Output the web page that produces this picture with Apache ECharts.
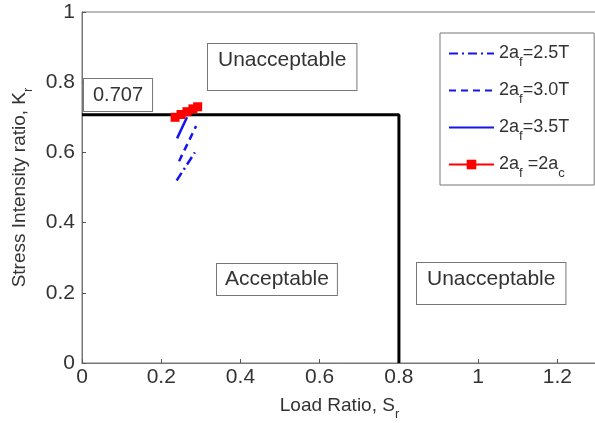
<!DOCTYPE html>
<html><head><meta charset="utf-8">
<script src="https://cdn.jsdelivr.net/npm/echarts@6/dist/echarts.min.js"></script>
<style>html,body{margin:0;padding:0;background:#fff;}#c{width:595px;height:423px;}</style>
</head><body><div id="c"></div>
<script>
// Data
var xTicks = [0, 0.2, 0.4, 0.6, 0.8, 1, 1.2];
var yTicks = [0, 0.2, 0.4, 0.6, 0.8, 1];
var limitX = [0, 0.8, 0.8];
var limitY = [0.707, 0.707, 0];
var s25X = [0.239, 0.285];
var s25Y = [0.520, 0.600];
var s30X = [0.245, 0.288];
var s30Y = [0.575, 0.675];
var s35X = [0.240, 0.265];
var s35Y = [0.640, 0.700];
var sCX = [0.235, 0.250, 0.265, 0.280, 0.292];
var sCY = [0.700, 0.708, 0.716, 0.724, 0.730];
var seriesNames = ['2.5T', '3.0T', '3.5T', '2ac'];
var legendLabels = {
  '2.5T': '2a{sub|f}=2.5T',
  '3.0T': '2a{sub|f}=3.0T',
  '3.5T': '2a{sub|f}=3.5T',
  '2ac': '2a{sub|f} =2a{sub|c}'
};

function pairs(xs, ys) { return xs.map(function (x, i) { return [x, ys[i]]; }); }

var FONT = 'Liberation Sans, Arial, sans-serif';
var subStyle = { fontSize: 13, fontFamily: FONT, color: '#333', verticalAlign: 'bottom', lineHeight: 14, padding: [0, 0, -5, 0] };
var BLUE = '#1515ee';

var chart = echarts.init(document.getElementById('c'));
chart.setOption({
  animation: false,
  backgroundColor: '#fff',
  grid: { left: 82, right: -2, top: 12, bottom: 60, outerBoundsMode: 'none', containLabel: false, show: true, borderColor: '#777', borderWidth: 1, backgroundColor: 'transparent' },
  xAxis: {
    type: 'value', min: xTicks[0], max: 1.3, interval: 0.2,
    axisLine: { show: true, onZero: false, lineStyle: { color: '#777', width: 1 } },
    axisTick: { show: true, inside: true, length: 4, lineStyle: { color: '#555' } },
    splitLine: { show: false },
    axisLabel: { color: '#333', fontSize: 21, fontFamily: FONT, margin: 4, showMaxLabel: false },
    name: 'Load Ratio, S{sub|r}', nameLocation: 'middle', nameGap: 32,
    nameTextStyle: { color: '#333', fontSize: 19, fontFamily: FONT, lineHeight: 21, rich: { sub: subStyle } }
  },
  yAxis: {
    type: 'value', min: yTicks[0], max: yTicks[yTicks.length - 1], interval: 0.2,
    axisLine: { show: true, onZero: false, lineStyle: { color: '#777', width: 1 } },
    axisTick: { show: true, inside: true, length: 4, lineStyle: { color: '#555' } },
    splitLine: { show: false },
    axisLabel: { color: '#333', fontSize: 21, fontFamily: FONT, margin: 7 },
    name: 'Stress Intensity ratio, K{sub|r}', nameLocation: 'middle', nameGap: 40,
    nameTextStyle: { color: '#333', fontSize: 19, fontFamily: FONT, lineHeight: 21, rich: { sub: subStyle } }
  },
  legend: {
    data: [
      { name: seriesNames[0], itemStyle: { opacity: 0 } },
      { name: seriesNames[1], itemStyle: { opacity: 0 } },
      { name: seriesNames[2], itemStyle: { opacity: 0 } },
      { name: seriesNames[3] }
    ],
    orient: 'vertical', left: 440, top: 33,
    padding: [10, 25, 5, 8],
    itemGap: 11, itemWidth: 45, itemHeight: 12,
    borderColor: '#777', borderWidth: 1, backgroundColor: '#fff',
    formatter: function (n) { return legendLabels[n]; },
    textStyle: { color: '#333', fontSize: 18, fontFamily: FONT, lineHeight: 21, rich: { sub: subStyle } }
  },
  graphic: [
    { type: 'text', left: 83, top: 78, z: 100, style: { text: '0.707', font: '20px ' + FONT, fill: '#333', backgroundColor: '#fff', borderColor: '#777', borderWidth: 1, padding: [6, 9, 6, 9] } },
    { type: 'text', left: 207, top: 43, z: 100, style: { text: 'Unacceptable', font: '21px ' + FONT, fill: '#333', backgroundColor: '#fff', borderColor: '#777', borderWidth: 1, padding: [6, 10, 19, 10] } },
    { type: 'text', left: 216, top: 263, z: 100, style: { text: 'Acceptable', font: '21px ' + FONT, fill: '#333', backgroundColor: '#fff', borderColor: '#777', borderWidth: 1, padding: [5, 8, 5, 8] } },
    { type: 'text', left: 416, top: 262, z: 100, style: { text: 'Unacceptable', font: '21px ' + FONT, fill: '#333', backgroundColor: '#fff', borderColor: '#777', borderWidth: 1, padding: [6, 10, 14, 10] } }
  ],
  series: [
    { name: 'limit', type: 'line', data: pairs(limitX, limitY), symbol: 'none', lineStyle: { color: '#000', width: 3 }, z: 3 },
    { name: '2.5T', type: 'line', data: pairs(s25X, s25Y), symbol: 'none', color: BLUE, lineStyle: { color: BLUE, width: 2.5, type: [9, 4, 2, 4] }, z: 4 },
    { name: '3.0T', type: 'line', data: pairs(s30X, s30Y), symbol: 'none', color: BLUE, lineStyle: { color: BLUE, width: 2.5, type: [7, 5] }, z: 4 },
    { name: '3.5T', type: 'line', data: pairs(s35X, s35Y), symbol: 'none', color: BLUE, lineStyle: { color: BLUE, width: 2.5, type: 'solid' }, z: 4 },
    { name: '2ac', type: 'line', data: pairs(sCX, sCY), symbol: 'rect', symbolSize: 9, color: '#ff0000', itemStyle: { color: '#ff0000' }, lineStyle: { color: '#ff0000', width: 4 }, z: 5 }
  ]
});
</script></body></html>
